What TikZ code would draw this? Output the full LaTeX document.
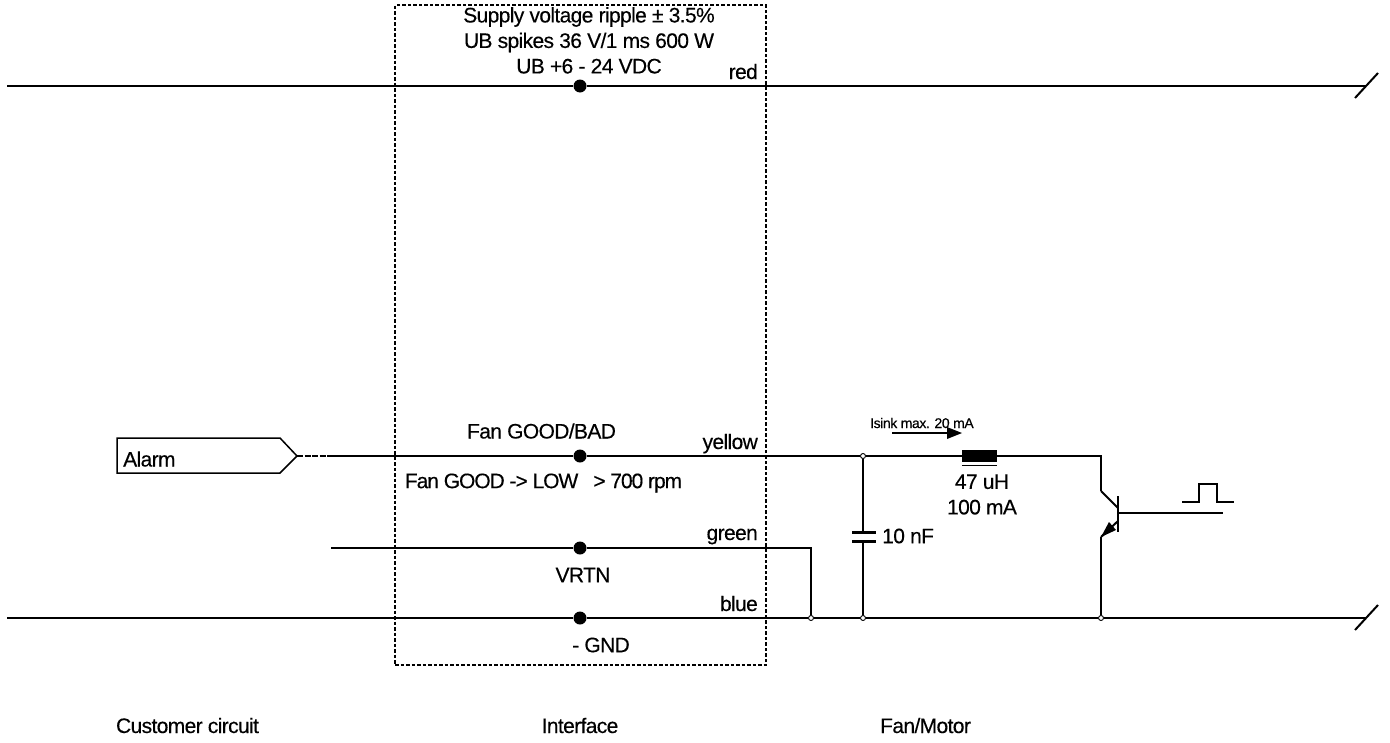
\documentclass[tikz,border=0pt]{standalone}
\usepackage{fontspec}
\setmainfont{Liberation Sans}
\newfontfamily\lab[LetterSpace=-3,FakeBold=0.3]{Liberation Sans}
\newfontfamily\labtight[LetterSpace=-5,FakeBold=0.3]{Liberation Sans}
\tikzset{
  x=1pt,y=-1pt,
  wire/.style={line width=2pt,line cap=butt,line join=miter},
  txt/.style={font=\lab\fontsize{21}{25.5}\selectfont,inner sep=0pt,text=black},
  tight txt/.style={font=\labtight\fontsize{21}{25.5}\selectfont,inner sep=0pt,text=black},
  small txt/.style={font=\lab\fontsize{14}{16}\selectfont,inner sep=0pt},
  bigdot/.style={circle,fill=black,draw=none,minimum size=13pt,inner sep=0pt},
  joint/.style={circle,draw=black,fill=white,line width=0.9pt,minimum size=5pt,inner sep=0pt},
  frame/.style={line width=1.3pt,dash pattern=on 3.5pt off 2pt}
}
\begin{document}
\begin{tikzpicture}
\useasboundingbox (0,0) rectangle (1390,742);
\fill[white] (0,0) rectangle (1390,742);
% coordinates
\coordinate (redL) at (7,86);
\coordinate (redR) at (1366,86);
\coordinate (redT1) at (1378,73);
\coordinate (redT2) at (1355,98);
\coordinate (bluL) at (7,618);
\coordinate (bluR) at (1366,618);
\coordinate (bluT1) at (1378,605);
\coordinate (bluT2) at (1355,630);
\coordinate (yelS) at (328,456);
\coordinate (greL) at (331,548);
\coordinate (greC) at (811,548);
\coordinate (cTop) at (863,532);
\coordinate (cBot) at (863,542);
\coordinate (colK) at (1101,491);
\coordinate (colB) at (1118,508);
\coordinate (emB) at (1118,521);
\coordinate (emK) at (1101,537);
\coordinate (baseT) at (1118,496);
\coordinate (baseBot) at (1118,532);
\coordinate (baseM) at (1118,513);
\coordinate (baseE) at (1223,513);
\coordinate (isA) at (892,433);
\coordinate (isB) at (950,433);
\coordinate (lu1) at (962,465);
\coordinate (lu2) at (997,465);
% frame
\node[frame,draw,minimum width=371pt,minimum height=660pt,inner sep=0pt] (iface) at (580.5,335) {};
% main wires
\node[bigdot] (d1) at (580,86) {};
\node[bigdot] (d2) at (580,456) {};
\node[bigdot] (d3) at (580,548) {};
\node[bigdot] (d4) at (580,618) {};
\node[joint] (j1) at (811,618) {};
\node[joint] (j2) at (863,618) {};
\node[joint] (j3) at (1101,618) {};
\node[joint] (j4) at (863,456) {};
\node[fill=black,minimum width=35pt,minimum height=12pt,inner sep=0pt] (ind) at (979.5,456) {};
\draw[wire] (redL) -- (d1) -- (redR);
\draw[wire] (redT2) -- (redT1);
\draw[wire] (bluL) -- (d4) -- (j1) -- (j2) -- (j3) -- (bluR);
\draw[wire] (bluT2) -- (bluT1);
\draw[wire] (yelS) -- (d2) -- (j4) -- (ind);
\draw[wire] (ind) -| (colK);
\draw[wire] (greL) -- (d3) -- (greC) -- (j1);
\draw[wire] (j4) -- (cTop);
\draw[wire] (cBot) -- (j2);
\draw[line width=1pt] (lu1) -- (lu2);
% capacitor
\draw[line width=3pt] (852,532.5) -- (876,532.5);
\draw[line width=3pt] (852,541.5) -- (876,541.5);
% transistor
\draw[wire] (colK) -- (colB);
\draw[wire] (baseT) -- (baseBot);
\draw[wire] (baseM) -- (baseE);
\draw[wire] (emK) -- (j3);
\draw[wire] (emB) -- (emK);
\fill (1101,537) -- (1109,522) -- (1116,530) -- cycle;
% pulse
\coordinate (p0) at (1182,502);
\coordinate (p1) at (1199,502);
\coordinate (p2) at (1199,484);
\coordinate (p3) at (1217,484);
\coordinate (p4) at (1217,502);
\coordinate (p5) at (1234,502);
\draw[line width=1.5pt] (p0) -- (p1) -- (p2) -- (p3) -- (p4) -- (p5);
% alarm
\node[inner sep=0pt,minimum size=0pt] (alarmtip) at (297,456) {};
\coordinate (a1) at (280,438);
\coordinate (a2) at (117,438);
\coordinate (a3) at (117,473);
\coordinate (a4) at (280,473);
\draw[line width=1.5pt,line join=miter] (alarmtip.center) -- (a1) -- (a2) -- (a3) -- (a4) -- cycle;
\draw[line width=1.5pt,dash pattern=on 6pt off 1.5pt] (alarmtip.center) -- (yelS);
% current arrow
\draw[line width=1.3pt] (isA) -- (isB);
\fill (947,427) -- (962,433) -- (947,439) -- cycle;
% texts
\node[txt,align=center,anchor=north] (t1) at (589,7) {Supply voltage ripple ± 3.5\%\\UB spikes 36 V/1 ms 600 W\\UB +6 - 24 VDC};
\node[txt,anchor=base east] (red) at (758,79) {red};
\node[txt,anchor=base east] (yellow) at (758,449) {yellow};
\node[txt,anchor=base east] (green) at (758,540) {green};
\node[txt,anchor=base east] (blue) at (758,611) {blue};
\node[txt] (fgb) at (541.5,431) {Fan GOOD/BAD};
\node[tight txt] (fgl) at (543.5,483) {Fan GOOD -> LOW\hspace{15pt}> 700 rpm};
\node[txt] (vrtn) at (583,575) {VRTN};
\node[txt] (gnd) at (601,645) {- GND};
\node[txt,anchor=west] (alarm) at (123,459) {Alarm};
\node[small txt,anchor=base west] (isink) at (870,428) {Isink max. 20 mA};
\node[txt,align=center] (l47) at (982,494.5) {47 uH\\100 mA};
\node[txt,anchor=west] (c10) at (882,536) {10 nF};
\node[txt,anchor=base] (cc) at (187.5,733) {Customer circuit};
\node[txt,anchor=base] (if) at (580,733) {Interface};
\node[txt,anchor=base] (fm) at (925.5,733) {Fan/Motor};
\end{tikzpicture}
\end{document}
